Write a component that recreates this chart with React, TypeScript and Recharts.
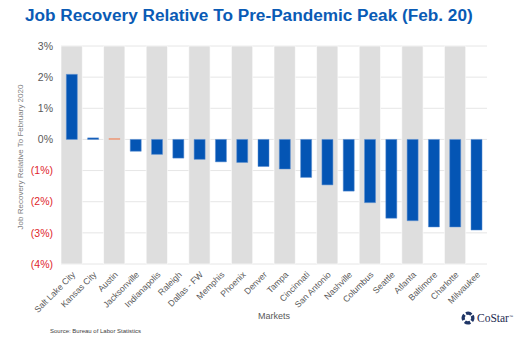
import React from "react";
import { BarChart, Bar, XAxis, YAxis, CartesianGrid, ReferenceArea, Cell, Label } from "recharts";

const markets = [
  "Salt Lake City", "Kansas City", "Austin", "Jacksonville", "Indianapolis", "Raleigh",
  "Dallas - FW", "Memphis", "Phoenix", "Denver", "Tampa", "Cincinnati", "San Antonio",
  "Nashville", "Columbus", "Seattle", "Atlanta", "Baltimore", "Charlotte", "Milwaukee",
];
const recovery = [
  2.09, 0.05, 0.03, -0.38, -0.48, -0.6, -0.64, -0.72, -0.74, -0.87, -0.95, -1.22, -1.46,
  -1.66, -2.03, -2.53, -2.61, -2.81, -2.81, -2.91,
];
const highlighted = ["Austin"];
const yTicks = [-4, -3, -2, -1, 0, 1, 2, 3];

const data = markets.map((m, i) => ({ market: m, value: recovery[i] }));
const shaded = markets.filter((_, i) => i % 2 === 0);

const FONT = "'Liberation Sans', Arial, sans-serif";
const BLUE = "#0455b4";
const ORANGE = "#e8784d";

const fmt = (v: number) => (v < 0 ? `(${Math.abs(v)}%)` : `${v}%`);

const YTick = (props: any) => {
  const { x, y, payload } = props;
  const v = payload.value;
  return (
    <text x={x} y={y} dy="0.36em" textAnchor="end" fontSize={10.5} fontFamily={FONT} fill={v < 0 ? "#e0262b" : "#595959"}>
      {fmt(v)}
    </text>
  );
};

const XTick = (props: any) => {
  const { x, y, payload } = props;
  return (
    <g transform={`translate(${x + 2},${y + 1})`}>
      <text x={0} y={0} dy="0.36em" transform="rotate(-45)" textAnchor="end" fontSize={8.7} fontFamily={FONT} fill="#595959">
        {payload.value}
      </text>
    </g>
  );
};

export default function App() {
  return (
    <div style={{ position: "absolute", left: 0, top: 0, width: 526, height: 343, background: "#fff", fontFamily: FONT }}>
      <div style={{ position: "absolute", left: 25, top: 4, fontSize: 17.2, fontWeight: 700, color: "#0a5bb5", whiteSpace: "nowrap", lineHeight: "22px" }}>
        Job Recovery Relative To Pre-Pandemic Peak (Feb. 20)
      </div>
      <BarChart width={526} height={343} data={data} margin={{ top: 46, right: 39, left: 0, bottom: 0 }} barCategoryGap="25%">
        <CartesianGrid vertical={false} stroke="#e6e6e6" />
        {shaded.map((m) => (
          <ReferenceArea key={m} x1={m} x2={m} y1={-4} y2={3} fill="#dedede" fillOpacity={1} stroke="#fff" strokeWidth={0.6} ifOverflow="visible" />
        ))}
        <XAxis dataKey="market" interval={0} height={79} tickLine={false} axisLine={false} tick={<XTick />}>
          <Label
            content={(p: any) => (
              <text x={p.viewBox.x + p.viewBox.width / 2} y={316} textAnchor="middle" dominantBaseline="central" fontSize={9} fontFamily={FONT} fill="#595959">
                Markets
              </text>
            )}
          />
        </XAxis>
        <YAxis width={61} domain={[-4, 3]} ticks={yTicks} interval={0} tickLine={false} axisLine={false} tick={<YTick />}>
          <Label
            content={(p: any) => {
              const cx = 20;
              const cy = p.viewBox.y + p.viewBox.height / 2 + 2;
              return (
                <text x={cx} y={cy} transform={`rotate(-90,${cx},${cy})`} textAnchor="middle" dominantBaseline="central" fontSize={8} fontFamily={FONT} fill="#808080">
                  Job Recovery Relative To February 2020
                </text>
              );
            }}
          />
        </YAxis>
        <Bar dataKey="value" isAnimationActive={false} stroke="#5a8fd2" strokeWidth={0.5}>
          {data.map((d) => (
            <Cell key={d.market} fill={highlighted.includes(d.market) ? ORANGE : BLUE} stroke={highlighted.includes(d.market) ? "#f0a080" : "#5a8fd2"} />
          ))}
        </Bar>
      </BarChart>
      <div style={{ position: "absolute", left: 50, top: 327, fontSize: 6, color: "#404040", whiteSpace: "nowrap", lineHeight: "8px" }}>
        Source: Bureau of Labor Statistics
      </div>
      <div style={{ position: "absolute", left: 460, top: 310, display: "flex", alignItems: "center", whiteSpace: "nowrap" }}>
        <svg width={16} height={16} viewBox="0 0 16 16">
          <circle cx={8} cy={8} r={4.8} fill="none" stroke="#1f3566" strokeWidth={3.2} strokeDasharray="5.5 2" transform="rotate(-30 8 8)" />
        </svg>
        <span style={{ fontFamily: "'Liberation Serif', 'Times New Roman', serif", fontSize: 11.5, color: "#1d2b4f", marginLeft: 1 }}>CoStar</span>
        <span style={{ fontSize: 4, color: "#1d2b4f", marginTop: -4 }}>™</span>
      </div>
    </div>
  );
}
